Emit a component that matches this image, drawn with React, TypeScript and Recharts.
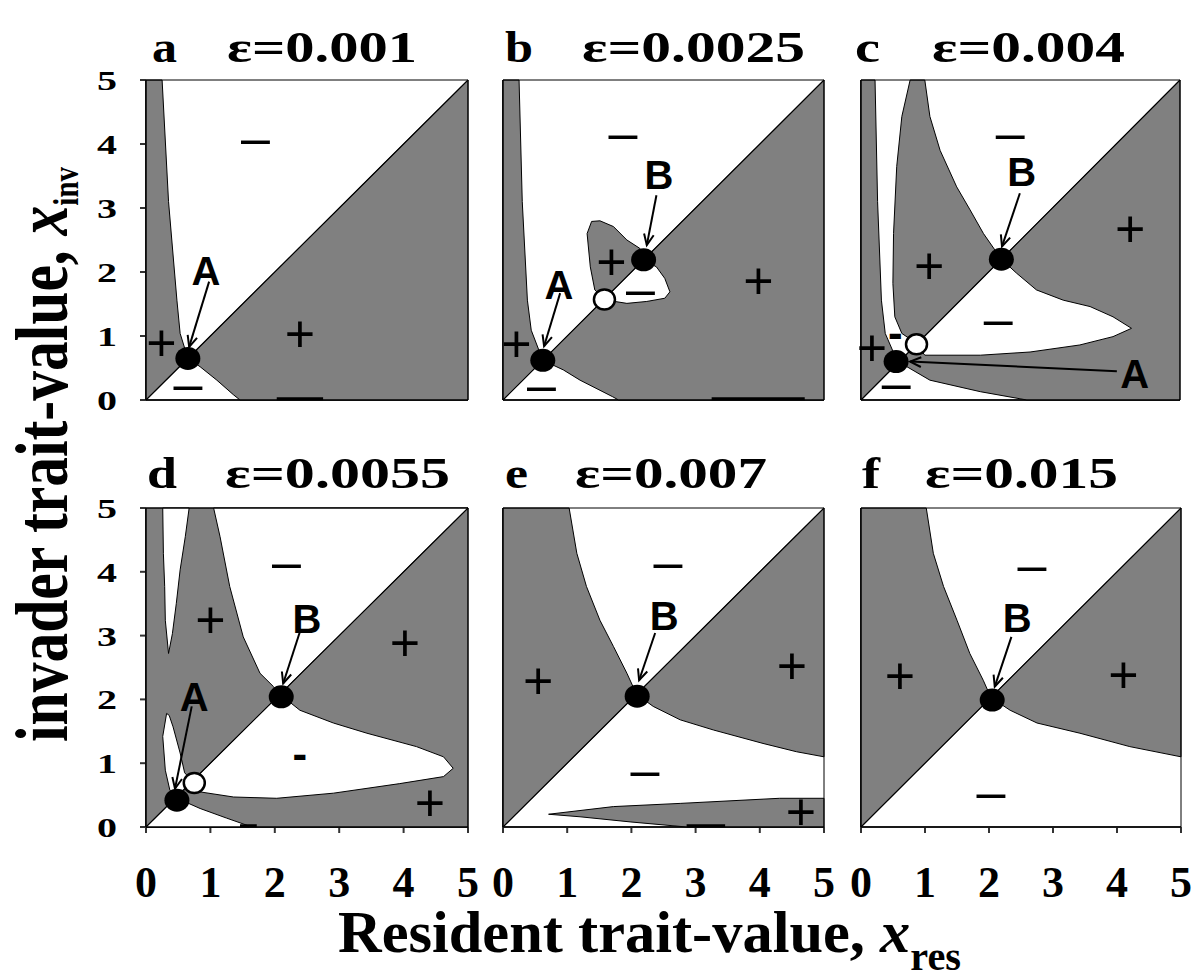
import React from "react";
import { ScatterChart, Scatter, XAxis, YAxis } from "recharts";

type XY = [number, number];
type Tag = [number, number, string];

const TICKS = [0, 1, 2, 3, 4, 5];
const LETTERS = ["a", "b", "c", "d", "e", "f"];
const EPSILONS = ["0.001", "0.0025", "0.004", "0.0055", "0.007", "0.015"];

const FRAME: XY[] = [[0, 0], [5, 0], [5, 5], [0, 5]];
const DIAGONAL: XY[] = [[0, 0], [5, 5]];

// a  eps=0.001
const aGray: XY[][] = [
  [[0, 0], [0, 5], [0.25, 5], [0.35, 3.1], [0.48, 1.56], [0.53, 1.04], [0.65, 0.65]],
  [[0.65, 0.65], [5, 5], [5, 0], [1.46, 0], [1.36, 0.08], [1.1, 0.31], [0.84, 0.52]],
];
const aWhite: XY[][] = [];
const aSolid: XY[] = [[0.65, 0.65]];
const aOpen: XY[] = [];
const aArrows: XY[][] = [[[0.98, 1.85], [0.67, 0.83]]];
const aBars: XY[][] = [[[2.03, 0.02], [2.75, 0.02]]];
const aTags: Tag[] = [
  [0.93, 2.02, "A"], [1.7, 4.05, "–"], [2.39, 1.02, "+"], [0.24, 0.89, "+"], [0.65, 0.21, "–"],
];

// b  eps=0.0025
const bGray: XY[][] = [
  [[0, 0], [0, 5], [0.25, 5], [0.3, 3.1], [0.38, 1.56], [0.44, 1.09], [0.62, 0.62]],
  [[1.58, 1.58], [1.43, 1.72], [1.36, 2.08], [1.31, 2.6], [1.38, 2.79], [1.51, 2.8], [1.72, 2.71],
   [1.93, 2.5], [2.13, 2.37], [2.19, 2.19]],
  [[0.62, 0.62], [1.58, 1.58], [1.74, 1.54], [1.93, 1.51], [2.24, 1.54], [2.52, 1.59], [2.6, 1.69],
   [2.52, 1.9], [2.39, 2.08], [2.19, 2.19], [5, 5], [5, 0], [1.8, 0], [1.71, 0.05], [1.2, 0.31], [0.94, 0.47]],
];
const bWhite: XY[][] = [];
const bSolid: XY[] = [[0.62, 0.62], [2.19, 2.19]];
const bOpen: XY[] = [[1.58, 1.57]];
const bArrows: XY[][] = [[[0.89, 1.67], [0.64, 0.84]], [[2.39, 3.2], [2.24, 2.42]]];
const bBars: XY[][] = [[[3.25, 0.02], [4.7, 0.02]]];
const bTags: Tag[] = [
  [0.87, 1.81, "A"], [2.43, 3.53, "B"], [1.87, 4.14, "–"], [1.69, 2.15, "+"], [2.14, 1.69, "–"],
  [3.98, 1.85, "+"], [0.21, 0.86, "+"], [0.6, 0.2, "–"],
];

// c  eps=0.004
const cGray: XY[][] = [
  [[0, 0], [0, 5], [0.22, 5], [0.26, 3.1], [0.32, 1.56], [0.38, 1.04], [0.58, 0.58]],
  [[0.77, 5], [0.64, 4.43], [0.56, 3.65], [0.51, 2.6], [0.5, 1.82], [0.53, 1.3], [0.64, 1.04],
   [0.79, 0.94], [0.87, 0.87], [2.2, 2.2], [1.92, 2.6], [1.71, 2.97], [1.5, 3.33], [1.24, 3.9],
   [1.08, 4.43], [1.0, 5]],
  [[0.58, 0.58], [0.87, 0.87], [1.0, 0.7], [1.87, 0.7], [2.65, 0.75], [3.43, 0.86], [3.95, 0.99],
   [4.24, 1.12], [3.95, 1.3], [3.59, 1.46], [3.17, 1.56], [2.75, 1.72], [2.44, 1.98], [2.2, 2.2],
   [5, 5], [5, 0], [2.6, 0], [1.87, 0.13], [1.08, 0.31], [0.72, 0.52]],
];
const cWhite: XY[][] = [];
const cSolid: XY[] = [[0.55, 0.6], [2.2, 2.2]];
const cOpen: XY[] = [[0.87, 0.87]];
const cArrows: XY[][] = [[[2.49, 3.23], [2.21, 2.4]], [[4.01, 0.45], [0.77, 0.6]]];
const cBars: XY[][] = [];
const cTags: Tag[] = [
  [2.52, 3.57, "B"], [4.29, 0.42, "A"], [2.34, 4.14, "–"], [4.22, 2.66, "+"], [1.07, 2.08, "+"],
  [2.15, 1.22, "–"], [0.17, 0.81, "+"], [0.55, 0.22, "–"], [0.54, 0.98, "-"],
];

// d  eps=0.0055
const dGray: XY[][] = [[[0, 0], [5, 0], [5, 5], [0, 5]]];
const dWhite: XY[][] = [
  [[0.26, 5], [0.27, 4.29], [0.29, 3.77], [0.3, 3.24], [0.35, 2.72], [0.41, 3.03], [0.47, 3.5],
   [0.53, 4.03], [0.61, 4.55], [0.67, 5]],
  [[1.05, 5], [1.15, 4.55], [1.3, 3.77], [1.51, 2.98], [1.77, 2.41], [1.98, 2.2], [2.08, 2.08], [5, 5]],
  [[0.48, 0.45], [0.37, 0.58], [0.3, 0.89], [0.26, 1.42], [0.32, 1.78], [0.36, 1.75], [0.42, 1.57],
   [0.53, 1.16], [0.6, 0.85], [0.72, 0.72]],
  [[0.72, 0.72], [2.08, 2.08], [2.39, 1.83], [2.91, 1.63], [3.43, 1.47], [4.2, 1.26], [4.62, 1.1],
   [4.77, 0.92], [4.62, 0.79], [3.94, 0.68], [2.91, 0.53], [2.03, 0.45], [1.36, 0.47], [0.84, 0.55]],
  [[0, 0], [0.46, 0.46], [0.84, 0.29], [1.25, 0.14], [1.56, 0.03], [1.6, 0]],
];
const dSolid: XY[] = [[0.48, 0.42], [2.1, 2.04]];
const dOpen: XY[] = [[0.75, 0.69]];
const dArrows: XY[][] = [[[0.71, 1.89], [0.45, 0.6]], [[2.39, 3.06], [2.13, 2.25]]];
const dBars: XY[][] = [[[1.46, 0.02], [1.72, 0.02]]];
const dTags: Tag[] = [
  [0.75, 2.04, "A"], [2.5, 3.27, "B"], [2.18, 4.12, "–"], [1.0, 3.24, "+"], [4.02, 2.88, "+"],
  [2.39, 1.08, "-"], [4.41, 0.37, "+"],
];

// e  eps=0.007
const eGray: XY[][] = [
  [[0, 0], [0, 5], [1.03, 5], [1.15, 4.29], [1.3, 3.77], [1.51, 3.24], [1.72, 2.83], [1.93, 2.41], [2.08, 2.08]],
  [[2.08, 2.08], [5, 5], [5, 1.1], [4.57, 1.18], [4.05, 1.31], [3.28, 1.52], [2.76, 1.68], [2.34, 1.89]],
  [[0.71, 0.2], [1.72, 0.32], [2.76, 0.37], [4.31, 0.45], [5, 0.45], [5, 0], [2.86, 0], [1.98, 0.08], [1.2, 0.16]],
];
const eWhite: XY[][] = [];
const eSolid: XY[] = [[2.09, 2.05]];
const eOpen: XY[] = [];
const eArrows: XY[][] = [[[2.37, 3.04], [2.12, 2.3]]];
const eBars: XY[][] = [[[2.86, 0.02], [3.46, 0.02]]];
const eTags: Tag[] = [
  [2.51, 3.31, "B"], [2.57, 4.12, "–"], [0.55, 2.28, "+"], [4.5, 2.51, "+"], [2.21, 0.85, "–"], [4.64, 0.22, "+"],
];

// f  eps=0.015
const fGray: XY[][] = [
  [[0, 0], [0, 5], [1.02, 5], [1.13, 4.29], [1.29, 3.77], [1.5, 3.24], [1.7, 2.72], [1.91, 2.3], [2.03, 2.03]],
  [[2.03, 2.03], [5, 5], [5, 1.1], [4.2, 1.26], [3.42, 1.47], [2.75, 1.63], [2.33, 1.83]],
];
const fWhite: XY[][] = [];
const fSolid: XY[] = [[2.05, 1.99]];
const fOpen: XY[] = [];
const fArrows: XY[][] = [[[2.35, 2.98], [2.09, 2.2]]];
const fBars: XY[][] = [];
const fTags: Tag[] = [
  [2.44, 3.29, "B"], [2.67, 4.07, "–"], [0.61, 2.36, "+"], [4.1, 2.38, "+"], [2.03, 0.51, "–"],
];

const PANEL_DATA = [
  { gray: aGray, white: aWhite, solid: aSolid, open: aOpen, arrows: aArrows, bars: aBars, tags: aTags },
  { gray: bGray, white: bWhite, solid: bSolid, open: bOpen, arrows: bArrows, bars: bBars, tags: bTags },
  { gray: cGray, white: cWhite, solid: cSolid, open: cOpen, arrows: cArrows, bars: cBars, tags: cTags },
  { gray: dGray, white: dWhite, solid: dSolid, open: dOpen, arrows: dArrows, bars: dBars, tags: dTags },
  { gray: eGray, white: eWhite, solid: eSolid, open: eOpen, arrows: eArrows, bars: eBars, tags: eTags },
  { gray: fGray, white: fWhite, solid: fSolid, open: fOpen, arrows: fArrows, bars: fBars, tags: fTags },
];

// pixel layout of each panel (plot box) and its title
const LAYOUT = [
  { left: 146, top: 80, right: 468, bottom: 400, yLab: true, xLab: false, lx: 152, lw: 25, ex: 227, ew: 190, ty: 62 },
  { left: 503, top: 80, right: 824, bottom: 400, yLab: false, xLab: false, lx: 505, lw: 28, ex: 582, ew: 223, ty: 62 },
  { left: 861, top: 80, right: 1180, bottom: 400, yLab: false, xLab: false, lx: 855, lw: 25, ex: 932, ew: 193, ty: 62 },
  { left: 146, top: 508, right: 468, bottom: 827, yLab: true, xLab: true, lx: 147, lw: 30, ex: 225, ew: 225, ty: 488 },
  { left: 503, top: 508, right: 824, bottom: 827, yLab: false, xLab: true, lx: 505, lw: 23, ex: 575, ew: 192, ty: 488 },
  { left: 861, top: 508, right: 1181, bottom: 827, yLab: false, xLab: true, lx: 862, lw: 18, ex: 925, ew: 193, ty: 488 },
];

const SERIF = "'Liberation Serif', 'Times New Roman', serif";
const SANS = "'Liberation Sans', Arial, sans-serif";
const GRAY = "#808080";
const AXIS = { stroke: "#333", strokeWidth: 2 };

const pts = (a: XY[]) => a.map(([x, y]) => ({ x, y }));
const tagPts = (a: Tag[]) => a.map(([x, y, t]) => ({ x, y, t }));

const Hidden = () => <g />;

const pathOf = (points: any[], close: boolean) =>
  (points || []).map((q: any, k: number) => `${k ? "L" : "M"}${q.x},${q.y}`).join("") + (close ? "Z" : "");

const polygonLine = (fill: string) => (p: any) => (
  <path d={pathOf(p.points, true)} fill={fill} stroke="#000" strokeWidth={1} strokeLinejoin="round" />
);

const strokeLine = (width: number, close: boolean) => (p: any) => (
  <path d={pathOf(p.points, close)} fill="none" stroke="#000" strokeWidth={width} />
);

const arrowLine = (p: any) => {
  const [a, b] = p.points || [];
  if (!a || !b) return <g />;
  const ang = Math.atan2(b.y - a.y, b.x - a.x);
  const L = 12;
  const w = 0.42;
  const h1 = `${b.x - L * Math.cos(ang - w)},${b.y - L * Math.sin(ang - w)}`;
  const h2 = `${b.x - L * Math.cos(ang + w)},${b.y - L * Math.sin(ang + w)}`;
  return (
    <g stroke="#000" strokeWidth={2} fill="none">
      <line x1={a.x} y1={a.y} x2={b.x} y2={b.y} />
      <polyline points={`${h1} ${b.x},${b.y} ${h2}`} />
    </g>
  );
};

const SolidDot = (p: any) => <ellipse cx={p.cx} cy={p.cy} rx={12.5} ry={11.5} fill="#000" />;
const OpenDot = (p: any) => (
  <ellipse cx={p.cx} cy={p.cy} rx={10.5} ry={10} fill="#fff" stroke="#000" strokeWidth={2.5} />
);

const TagShape = (p: any) => {
  const t: string = p.payload.t;
  if (t === "A" || t === "B") {
    return (
      <text x={p.cx} y={p.cy + 14.5} textAnchor="middle" fontFamily={SANS} fontWeight="bold" fontSize={40}>
        {t}
      </text>
    );
  }
  if (t === "-") {
    return (
      <text x={p.cx} y={p.cy + 11} textAnchor="middle" fontFamily={SANS} fontWeight="bold" fontSize={44}>
        {t}
      </text>
    );
  }
  return (
    <text x={p.cx} y={p.cy + (t === "+" ? 17.5 : 14.5)} textAnchor="middle" fontFamily={SANS} fontSize={52}>
      {t}
    </text>
  );
};

const XTick = (p: any) => (
  <text x={p.x} y={p.y + 64} textAnchor="middle" fontFamily={SERIF} fontWeight="bold" fontSize={44}>
    {p.payload.value}
  </text>
);

const YTick = (p: any) => (
  <text
    x={p.x}
    y={p.y + 10}
    textAnchor="end"
    fontFamily={SERIF}
    fontWeight="bold"
    fontSize={28}
    textLength={20}
    lengthAdjust="spacingAndGlyphs"
  >
    {p.payload.value}
  </text>
);

function Panel({ i }: { i: number }) {
  const L = LAYOUT[i];
  const D = PANEL_DATA[i];
  const padTop = 20;
  const padRight = 20;
  const yW = L.yLab ? 100 : 30;
  const xH = L.xLab ? 90 : 30;
  const w = yW + (L.right - L.left) + padRight;
  const h = padTop + (L.bottom - L.top) + xH;

  return (
    <div style={{ position: "absolute", left: L.left - yW, top: L.top - padTop }}>
      <ScatterChart width={w} height={h} margin={{ top: padTop, right: padRight, left: 0, bottom: 0 }}>
        <XAxis
          type="number"
          dataKey="x"
          domain={[0, 5]}
          ticks={TICKS}
          interval={0}
          tickSize={6}
          tickMargin={0}
          axisLine={AXIS}
          tickLine={AXIS}
          tick={L.xLab ? <XTick /> : false}
          height={xH}
        />
        <YAxis
          type="number"
          dataKey="y"
          domain={[0, 5]}
          ticks={TICKS}
          interval={0}
          tickSize={6}
          tickMargin={23}
          axisLine={AXIS}
          tickLine={AXIS}
          tick={L.yLab ? <YTick /> : false}
          width={yW}
        />
        {D.gray.map((poly, k) => (
          <Scatter key={`g${k}`} data={pts(poly)} line={polygonLine(GRAY)} shape={Hidden}
            isAnimationActive={false} legendType="none" />
        ))}
        {D.white.map((poly, k) => (
          <Scatter key={`w${k}`} data={pts(poly)} line={polygonLine("#fff")} shape={Hidden}
            isAnimationActive={false} legendType="none" />
        ))}
        <Scatter data={pts(DIAGONAL)} line={strokeLine(1.2, false)} shape={Hidden}
          isAnimationActive={false} legendType="none" />
        <Scatter data={pts(FRAME)} line={strokeLine(1, true)} shape={Hidden}
          isAnimationActive={false} legendType="none" />
        {D.bars.map((bar, k) => (
          <Scatter key={`b${k}`} data={pts(bar)} line={strokeLine(3, false)} shape={Hidden}
            isAnimationActive={false} legendType="none" />
        ))}
        {D.arrows.map((ar, k) => (
          <Scatter key={`a${k}`} data={pts(ar)} line={arrowLine} shape={Hidden}
            isAnimationActive={false} legendType="none" />
        ))}
        <Scatter data={pts(D.solid)} shape={SolidDot} isAnimationActive={false} legendType="none" />
        <Scatter data={pts(D.open)} shape={OpenDot} isAnimationActive={false} legendType="none" />
        <Scatter data={tagPts(D.tags)} shape={TagShape} isAnimationActive={false} legendType="none" />
      </ScatterChart>
    </div>
  );
}

export default function App() {
  return (
    <div style={{ position: "absolute", left: 0, top: 0, width: 1198, height: 980, background: "#fff" }}>
      <svg width={1198} height={980} style={{ position: "absolute", left: 0, top: 0 }}>
        {LAYOUT.map((L, i) => (
          <g key={i} fontFamily={SERIF} fontWeight="bold" fontSize={44}>
            <text x={L.lx} y={L.ty} textLength={L.lw} lengthAdjust="spacingAndGlyphs">
              {LETTERS[i]}
            </text>
            <text x={L.ex} y={L.ty} textLength={L.ew} lengthAdjust="spacingAndGlyphs">
              {`ε=${EPSILONS[i]}`}
            </text>
          </g>
        ))}
        <text
          transform="translate(67,742) rotate(-90)"
          fontFamily={SERIF}
          fontWeight="bold"
          fontSize={74}
          textLength={575}
          lengthAdjust="spacingAndGlyphs"
        >
          invader trait-value,{" "}
          <tspan fontStyle="italic">x</tspan>
          <tspan fontSize={36} dy={11}>inv</tspan>
        </text>
        <text
          x={338}
          y={952}
          fontFamily={SERIF}
          fontWeight="bold"
          fontSize={60}
          textLength={623}
          lengthAdjust="spacingAndGlyphs"
        >
          Resident trait-value,{" "}
          <tspan fontStyle="italic">x</tspan>
          <tspan fontSize={40} dy={18}>res</tspan>
        </text>
      </svg>
      {LAYOUT.map((_, i) => (
        <Panel key={i} i={i} />
      ))}
    </div>
  );
}
